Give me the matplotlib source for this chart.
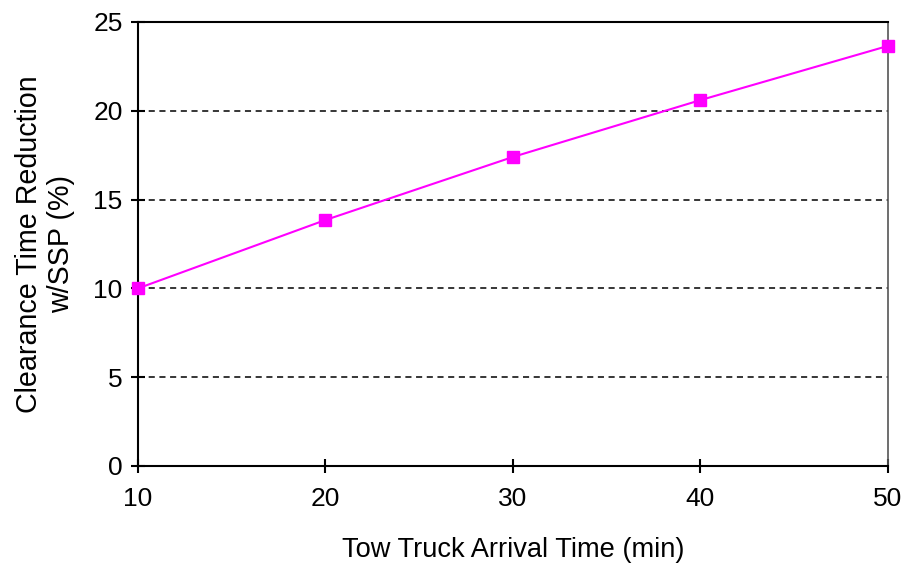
import matplotlib.pyplot as plt

# Tow truck arrival time vs clearance time reduction
arrival_min = [10, 20, 30, 40, 50]
reduction_pct = [10.0, 13.85, 17.4, 20.6, 23.65]
y_ticks = [0, 5, 10, 15, 20, 25]
x_ticks = [10, 20, 30, 40, 50]

plt.rcParams['font.family'] = ['Liberation Sans', 'DejaVu Sans']

fig = plt.figure(figsize=(9.09, 5.63), dpi=100)
ax = fig.add_axes([0.1518, 0.1723, 0.825, 0.7887])

for yv in y_ticks[1:-1]:
    ax.axhline(yv, color='black', linestyle=(0, (4, 3)), linewidth=1.1, zorder=1)

ax.plot(arrival_min, reduction_pct, color='#ff00ff', linewidth=1.5,
        marker='s', markersize=9, clip_on=False, zorder=3)

ax.set_xlim(10, 50)
ax.set_ylim(0, 25)
ax.set_xticks(x_ticks)
ax.set_yticks(y_ticks)
ax.tick_params(direction='inout', length=10, width=1.5, labelsize=19)
ax.tick_params(axis='x', pad=10)
ax.tick_params(axis='y', pad=6)
for side in ['left', 'bottom', 'top']:
    ax.spines[side].set_linewidth(1.5)
ax.spines['right'].set_linewidth(1.2)
ax.spines['right'].set_color('#555555')

ax.set_xlabel('Tow Truck Arrival Time (min)', fontsize=19.6, labelpad=19)
ax.set_ylabel('Clearance Time Reduction\nw/SSP (%)', fontsize=20.6, labelpad=13)

fig.savefig('out.png', dpi=100)
